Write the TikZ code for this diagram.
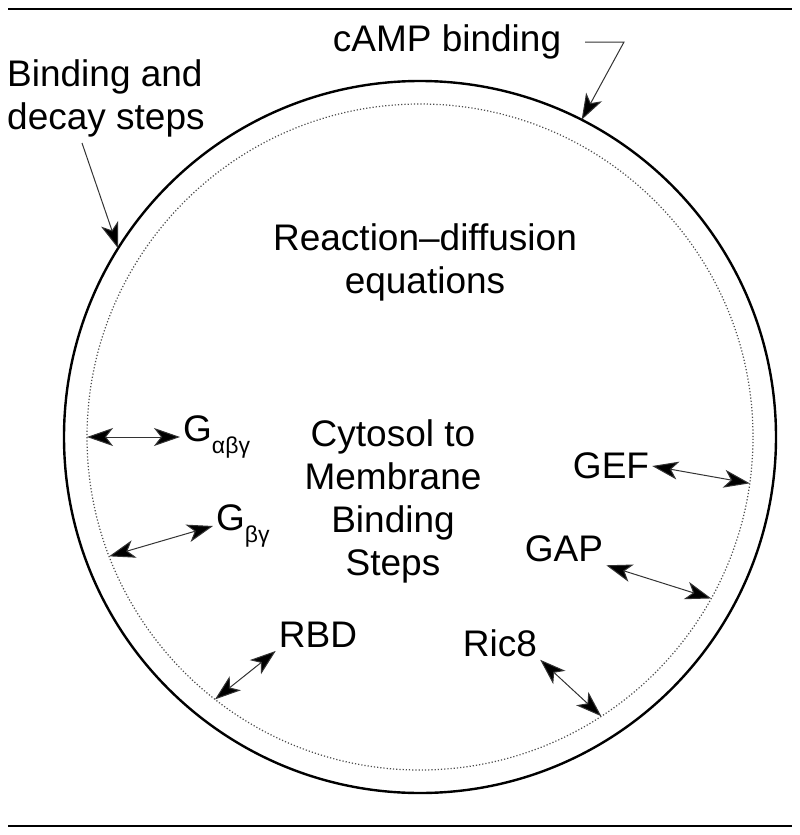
\documentclass[tikz,border=0pt]{standalone}
\usepackage{fontspec}
\setmainfont{Liberation Sans}
\usetikzlibrary{arrows.meta}
\newcommand{\subtxt}[1]{\raisebox{-0.32em}{\fontsize{23}{23}\selectfont #1}}
\begin{document}
\begin{tikzpicture}[x=1pt,y=-1pt,
  lbl/.style={font=\fontsize{37}{43}\selectfont, inner sep=3pt, align=center},
  conn/.style={line width=1pt, draw=black!80},
  tip/.style={-{Stealth[length=26pt,width=18pt,inset=7pt,fill=black]}},
  dtip/.style={{Stealth[length=26pt,width=18pt,inset=7pt,fill=black]}-{Stealth[length=26pt,width=18pt,inset=7pt,fill=black]}},
  rule/.style={line width=2pt}
]
\useasboundingbox (0,0) rectangle (800,835);
% horizontal rules
\draw[rule] (8,9) -- (792,9);
\draw[rule] (8,826) -- (792,826);
% cell and membrane
\node[circle, draw, line width=2.4pt, minimum size=712pt, inner sep=0pt, outer sep=0pt] (cell) at (420,437) {};
\node[circle, draw=black!70, dotted, line width=1.2pt, minimum size=666pt, inner sep=0pt, outer sep=0pt] (mem) at (420,437) {};
% labels
\node[lbl] (camp) at (447,42) {cAMP binding};
\node[lbl, align=left, anchor=west, inner sep=0pt] (bind) at (7,98) {Binding and\\decay steps};
\node[lbl] (rd) at (425,262) {Reaction–diffusion\\equations};
\node[lbl] (cyto) at (393,501) {Cytosol to\\Membrane\\Binding\\Steps};
\node[lbl, anchor=west] (gabg) at (180,437) {G\subtxt{αβγ}};
\node[lbl, anchor=west] (gbg) at (213,526) {G\subtxt{βγ}};
\node[lbl] (gef) at (611,466) {GEF};
\node[lbl] (gap) at (564,549) {GAP};
\node[lbl] (rbd) at (318,635) {RBD};
\node[lbl] (ric) at (500,643) {Ric8};
% connectors
\coordinate (campstart) at (585,42);
\coordinate (campcorner) at (624,42);
\draw[conn, tip] (campstart) -- (campcorner) -- (cell.63);
\coordinate (bindstart) at (82,143);
\draw[conn, tip] (bindstart) -- (cell.148);
\draw[conn, dtip] (mem.180) -- (gabg.west);
\draw[conn, dtip] (mem.201.5) -- (gbg.west);
\draw[conn, dtip] (gef.east) -- (mem.352);
\draw[conn, dtip] (gap.south east) -- (mem.331);
\draw[conn, dtip] (rbd.south west) -- (mem.232);
\draw[conn, dtip] (ric.south east) -- (mem.303);
\end{tikzpicture}
\end{document}
